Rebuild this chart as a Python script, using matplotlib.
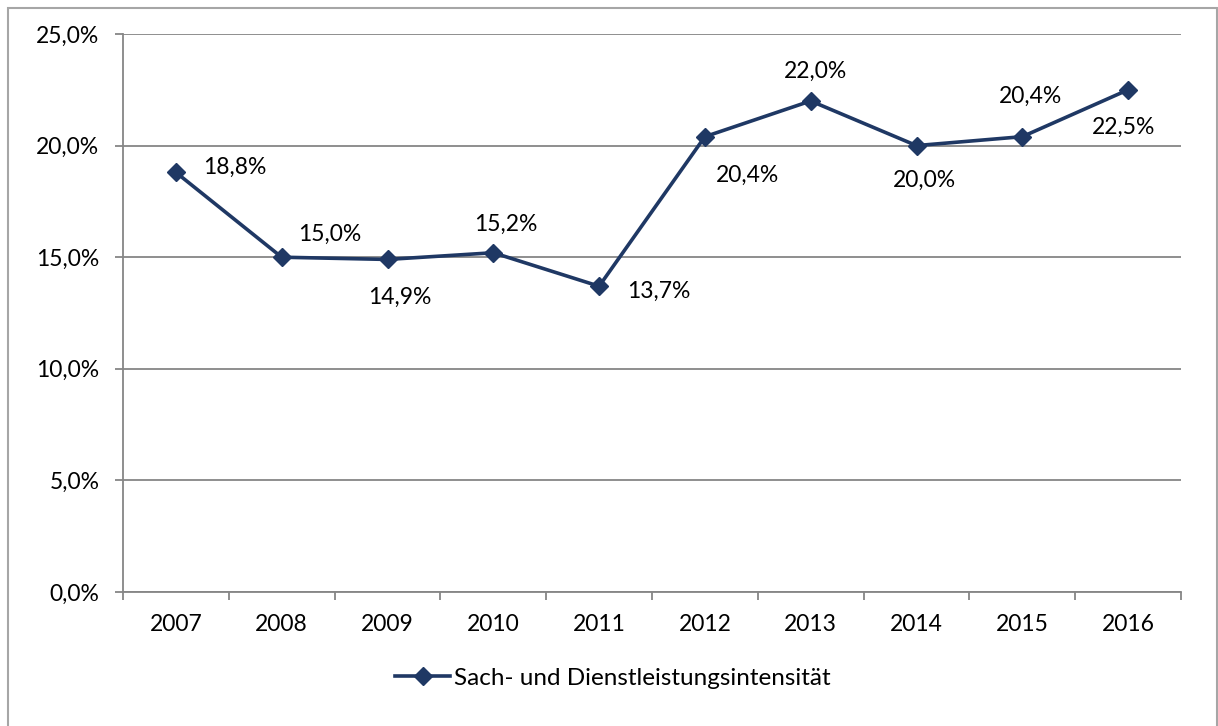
import matplotlib.pyplot as plt
from matplotlib.patches import Rectangle
from matplotlib.lines import Line2D

years = ['2007', '2008', '2009', '2010', '2011', '2012', '2013', '2014', '2015', '2016']
intensity = [18.8, 15.0, 14.9, 15.2, 13.7, 20.4, 22.0, 20.0, 20.4, 22.5]
series_name = 'Sach- und Dienstleistungsintensität'
y_ticks = [0, 5, 10, 15, 20, 25]

# label offsets in pixels (dx, dy) relative to each point
label_offsets = [(59, 5), (48, 23), (12, -38), (12, 28), (60, -5),
                 (43, -39), (5, 30), (8, -35), (8, 40), (-5, -38)]

LINE_COLOR = '#1f3864'
GRID_COLOR = '#868686'
FS = 16.5

plt.rcParams['font.family'] = ['Lato', 'DejaVu Sans']

fig = plt.figure(figsize=(12.18, 7.26), dpi=100)
ax = fig.add_axes([123 / 1218, 1 - 592 / 726, (1181 - 123) / 1218, (592 - 34) / 726])

x = list(range(len(years)))
ax.plot(x, intensity, color=LINE_COLOR, linewidth=2.6, marker='D', markersize=9.5,
        zorder=3)

for xi, v, (dx, dy) in zip(x, intensity, label_offsets):
    ax.annotate(f'{v:.1f}%'.replace('.', ','), (xi, v), xytext=(dx, dy),
                textcoords='offset pixels', ha='center', va='center', fontsize=FS)

ax.set_xlim(-0.5, len(years) - 0.5)
ax.set_ylim(0, 25)
ax.set_yticks(y_ticks)
ax.set_yticklabels([f'{t:.1f}%'.replace('.', ',') for t in y_ticks], fontsize=FS)
ax.set_xticks(x)
ax.set_xticklabels(years, fontsize=FS)
ax.set_xticks([i - 0.5 for i in range(len(years) + 1)], minor=True)

ax.tick_params(axis='x', which='major', length=0, pad=16)
ax.tick_params(axis='x', which='minor', length=6, width=1.3, color=GRID_COLOR, direction='out')
ax.tick_params(axis='y', length=6, width=1.3, color=GRID_COLOR, pad=11)

ax.grid(axis='y', color=GRID_COLOR, linewidth=1.3)
ax.set_axisbelow(True)
for side in ['top', 'right']:
    ax.spines[side].set_visible(False)
for side in ['left', 'bottom']:
    ax.spines[side].set_color(GRID_COLOR)
    ax.spines[side].set_linewidth(1.3)

handle = Line2D([], [], color=LINE_COLOR, linewidth=2.6, marker='D', markersize=9.5)
fig.legend([handle], [series_name], loc='center', bbox_to_anchor=(0.503, 1 - 678 / 726),
           frameon=False, fontsize=17.5, handlelength=2.3, handletextpad=0.15)

fig.patches.append(Rectangle((8 / 1218, -0.01), 1209 / 1218, 1 - 8 / 726 + 0.01,
                             transform=fig.transFigure, fill=False,
                             edgecolor='#a6a6a6', linewidth=1.5))

fig.savefig('out.png', dpi=100)
